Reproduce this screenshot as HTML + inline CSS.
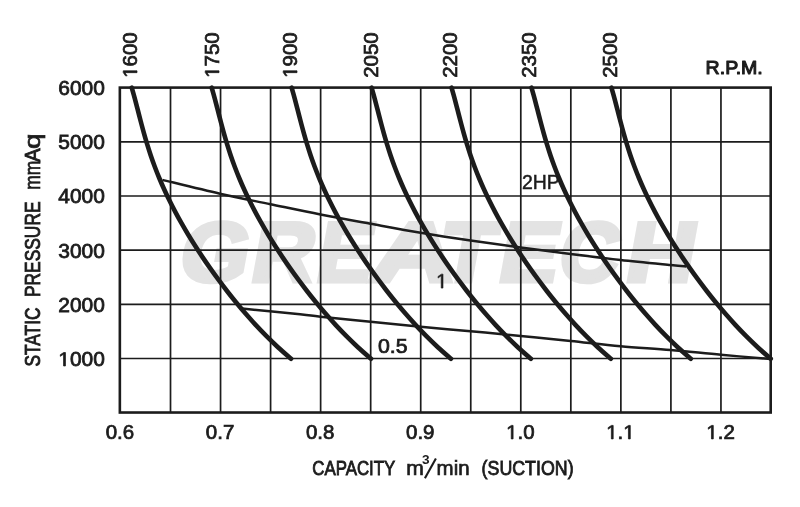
<!DOCTYPE html>
<html><head><meta charset="utf-8"><title>Performance Curve</title>
<style>html,body{margin:0;padding:0;background:#fff;}body{width:800px;height:507px;overflow:hidden;}svg{display:block;filter:grayscale(1);}text{font-family:"Liberation Sans",sans-serif;fill:#1c1c1c;}</style>
</head><body>
<svg width="800" height="507" viewBox="0 0 800 507">
<rect width="800" height="507" fill="#ffffff"/>
<g transform="translate(0 281.0) skewX(-10.4)" style="fill:#e3e3e3;stroke:#e3e3e3;stroke-width:5.0px;stroke-linejoin:miter" font-size="83.5" font-weight="bold">
<text transform="translate(177.04 0) scale(1.0433 1)" x="0" y="0" style="fill:#e3e3e3">G</text>
<text transform="translate(248.86 0) scale(1.0172 1)" x="0" y="0" style="fill:#e3e3e3">R</text>
<text transform="translate(313.99 0) scale(0.9740 1)" x="0" y="0" style="fill:#e3e3e3">E</text>
<text transform="translate(368.09 0) scale(1.3930 1)" x="0" y="0" style="fill:#e3e3e3">A</text>
<text transform="translate(436.64 0) scale(1.0522 1)" x="0" y="0" style="fill:#e3e3e3">T</text>
<text transform="translate(496.29 0) scale(1.0415 1)" x="0" y="0" style="fill:#e3e3e3">E</text>
<text transform="translate(556.10 0) scale(0.9733 1)" x="0" y="0" style="fill:#e3e3e3">C</text>
<text transform="translate(623.13 0) scale(1.1241 1)" x="0" y="0" style="fill:#e3e3e3">H</text>
</g>
<path d="M170.51 87.60 V412.62 M220.55 87.60 V412.62 M270.59 87.60 V412.62 M320.63 87.60 V412.62 M370.67 87.60 V412.62 M420.71 87.60 V412.62 M470.75 87.60 V412.62 M520.79 87.60 V412.62 M570.83 87.60 V412.62 M620.87 87.60 V412.62 M670.91 87.60 V412.62 M720.95 87.60 V412.62 M119.85 141.82 H770.70 M119.85 195.99 H770.70 M119.85 250.16 H770.70 M119.85 304.33 H770.70 M119.85 358.50 H770.70" stroke="#1c1c1c" stroke-width="1.7" fill="none"/>
<rect x="119.85" y="87.60" width="650.85" height="324.92" fill="none" stroke="#1c1c1c" stroke-width="2.6"/>
<path d="M131.74 87.60 C132.26 89.48 133.87 95.13 134.89 98.90 C135.91 102.67 136.86 106.43 137.84 110.20 C138.82 113.97 139.77 117.73 140.77 121.50 C141.77 125.27 142.77 129.03 143.83 132.80 C144.89 136.57 145.97 140.33 147.13 144.10 C148.29 147.87 149.49 151.63 150.76 155.40 C152.04 159.17 153.38 162.93 154.79 166.70 C156.20 170.47 157.68 174.23 159.24 178.00 C160.80 181.77 162.43 185.53 164.14 189.30 C165.84 193.07 167.63 196.83 169.48 200.60 C171.34 204.37 173.27 208.13 175.27 211.90 C177.27 215.67 179.34 219.43 181.48 223.20 C183.62 226.97 185.83 230.73 188.11 234.50 C190.38 238.27 192.72 242.03 195.12 245.80 C197.53 249.57 199.99 253.33 202.52 257.10 C205.05 260.87 207.64 264.63 210.29 268.40 C212.94 272.17 215.66 275.93 218.44 279.70 C221.23 283.47 224.07 287.23 227.00 291.00 C229.93 294.77 232.92 298.53 236.00 302.30 C239.09 306.07 242.24 309.83 245.52 313.60 C248.79 317.37 252.14 321.13 255.64 324.90 C259.13 328.67 262.72 332.43 266.49 336.20 C270.25 339.97 274.13 343.73 278.23 347.50 C282.32 351.27 288.92 356.92 291.05 358.80" stroke="#1c1c1c" stroke-width="4.6" fill="none" stroke-linecap="round"/>
<path d="M211.69 87.60 C212.21 89.48 213.82 95.13 214.84 98.90 C215.86 102.67 216.81 106.43 217.79 110.20 C218.77 113.97 219.72 117.73 220.72 121.50 C221.72 125.27 222.72 129.03 223.78 132.80 C224.84 136.57 225.92 140.33 227.08 144.10 C228.24 147.87 229.44 151.63 230.71 155.40 C231.99 159.17 233.33 162.93 234.74 166.70 C236.15 170.47 237.63 174.23 239.19 178.00 C240.75 181.77 242.38 185.53 244.09 189.30 C245.79 193.07 247.58 196.83 249.43 200.60 C251.29 204.37 253.22 208.13 255.22 211.90 C257.22 215.67 259.29 219.43 261.43 223.20 C263.57 226.97 265.78 230.73 268.06 234.50 C270.33 238.27 272.67 242.03 275.07 245.80 C277.48 249.57 279.94 253.33 282.47 257.10 C285.00 260.87 287.59 264.63 290.24 268.40 C292.89 272.17 295.61 275.93 298.39 279.70 C301.18 283.47 304.02 287.23 306.95 291.00 C309.88 294.77 312.87 298.53 315.95 302.30 C319.04 306.07 322.19 309.83 325.47 313.60 C328.74 317.37 332.09 321.13 335.59 324.90 C339.08 328.67 342.67 332.43 346.44 336.20 C350.20 339.97 354.08 343.73 358.18 347.50 C362.27 351.27 368.87 356.92 371.00 358.80" stroke="#1c1c1c" stroke-width="4.6" fill="none" stroke-linecap="round"/>
<path d="M291.64 87.60 C292.16 89.48 293.77 95.13 294.79 98.90 C295.81 102.67 296.76 106.43 297.74 110.20 C298.72 113.97 299.67 117.73 300.67 121.50 C301.67 125.27 302.67 129.03 303.73 132.80 C304.79 136.57 305.87 140.33 307.03 144.10 C308.19 147.87 309.39 151.63 310.66 155.40 C311.94 159.17 313.28 162.93 314.69 166.70 C316.10 170.47 317.58 174.23 319.14 178.00 C320.70 181.77 322.33 185.53 324.04 189.30 C325.74 193.07 327.53 196.83 329.38 200.60 C331.24 204.37 333.17 208.13 335.17 211.90 C337.17 215.67 339.24 219.43 341.38 223.20 C343.52 226.97 345.73 230.73 348.01 234.50 C350.28 238.27 352.62 242.03 355.02 245.80 C357.43 249.57 359.89 253.33 362.42 257.10 C364.95 260.87 367.54 264.63 370.19 268.40 C372.84 272.17 375.56 275.93 378.34 279.70 C381.13 283.47 383.97 287.23 386.90 291.00 C389.83 294.77 392.82 298.53 395.90 302.30 C398.99 306.07 402.14 309.83 405.42 313.60 C408.69 317.37 412.04 321.13 415.54 324.90 C419.03 328.67 422.62 332.43 426.39 336.20 C430.15 339.97 434.03 343.73 438.13 347.50 C442.22 351.27 448.82 356.92 450.95 358.80" stroke="#1c1c1c" stroke-width="4.6" fill="none" stroke-linecap="round"/>
<path d="M371.59 87.60 C372.11 89.48 373.72 95.13 374.74 98.90 C375.76 102.67 376.71 106.43 377.69 110.20 C378.67 113.97 379.62 117.73 380.62 121.50 C381.62 125.27 382.62 129.03 383.68 132.80 C384.74 136.57 385.82 140.33 386.98 144.10 C388.14 147.87 389.34 151.63 390.61 155.40 C391.89 159.17 393.23 162.93 394.64 166.70 C396.05 170.47 397.53 174.23 399.09 178.00 C400.65 181.77 402.28 185.53 403.99 189.30 C405.69 193.07 407.48 196.83 409.33 200.60 C411.19 204.37 413.12 208.13 415.12 211.90 C417.12 215.67 419.19 219.43 421.33 223.20 C423.47 226.97 425.68 230.73 427.96 234.50 C430.23 238.27 432.57 242.03 434.97 245.80 C437.38 249.57 439.84 253.33 442.37 257.10 C444.90 260.87 447.49 264.63 450.14 268.40 C452.79 272.17 455.51 275.93 458.29 279.70 C461.08 283.47 463.92 287.23 466.85 291.00 C469.78 294.77 472.77 298.53 475.85 302.30 C478.94 306.07 482.09 309.83 485.37 313.60 C488.64 317.37 491.99 321.13 495.49 324.90 C498.98 328.67 502.57 332.43 506.34 336.20 C510.10 339.97 513.98 343.73 518.08 347.50 C522.17 351.27 528.77 356.92 530.90 358.80" stroke="#1c1c1c" stroke-width="4.6" fill="none" stroke-linecap="round"/>
<path d="M451.54 87.60 C452.06 89.48 453.67 95.13 454.69 98.90 C455.71 102.67 456.66 106.43 457.64 110.20 C458.62 113.97 459.57 117.73 460.57 121.50 C461.57 125.27 462.57 129.03 463.63 132.80 C464.69 136.57 465.77 140.33 466.93 144.10 C468.09 147.87 469.29 151.63 470.56 155.40 C471.84 159.17 473.18 162.93 474.59 166.70 C476.00 170.47 477.48 174.23 479.04 178.00 C480.60 181.77 482.23 185.53 483.94 189.30 C485.64 193.07 487.43 196.83 489.28 200.60 C491.14 204.37 493.07 208.13 495.07 211.90 C497.07 215.67 499.14 219.43 501.28 223.20 C503.42 226.97 505.63 230.73 507.91 234.50 C510.18 238.27 512.52 242.03 514.92 245.80 C517.33 249.57 519.79 253.33 522.32 257.10 C524.85 260.87 527.44 264.63 530.09 268.40 C532.74 272.17 535.46 275.93 538.24 279.70 C541.03 283.47 543.87 287.23 546.80 291.00 C549.73 294.77 552.72 298.53 555.80 302.30 C558.89 306.07 562.04 309.83 565.32 313.60 C568.59 317.37 571.94 321.13 575.44 324.90 C578.93 328.67 582.52 332.43 586.29 336.20 C590.05 339.97 593.93 343.73 598.03 347.50 C602.12 351.27 608.72 356.92 610.85 358.80" stroke="#1c1c1c" stroke-width="4.6" fill="none" stroke-linecap="round"/>
<path d="M531.49 87.60 C532.01 89.48 533.62 95.13 534.64 98.90 C535.66 102.67 536.61 106.43 537.59 110.20 C538.57 113.97 539.52 117.73 540.52 121.50 C541.52 125.27 542.52 129.03 543.58 132.80 C544.64 136.57 545.72 140.33 546.88 144.10 C548.04 147.87 549.24 151.63 550.51 155.40 C551.79 159.17 553.13 162.93 554.54 166.70 C555.95 170.47 557.43 174.23 558.99 178.00 C560.55 181.77 562.18 185.53 563.89 189.30 C565.59 193.07 567.38 196.83 569.23 200.60 C571.09 204.37 573.02 208.13 575.02 211.90 C577.02 215.67 579.09 219.43 581.23 223.20 C583.37 226.97 585.58 230.73 587.86 234.50 C590.13 238.27 592.47 242.03 594.87 245.80 C597.28 249.57 599.74 253.33 602.27 257.10 C604.80 260.87 607.39 264.63 610.04 268.40 C612.69 272.17 615.41 275.93 618.19 279.70 C620.98 283.47 623.82 287.23 626.75 291.00 C629.68 294.77 632.67 298.53 635.75 302.30 C638.84 306.07 641.99 309.83 645.27 313.60 C648.54 317.37 651.89 321.13 655.39 324.90 C658.88 328.67 662.47 332.43 666.24 336.20 C670.00 339.97 673.88 343.73 677.98 347.50 C682.07 351.27 688.67 356.92 690.80 358.80" stroke="#1c1c1c" stroke-width="4.6" fill="none" stroke-linecap="round"/>
<path d="M611.44 87.60 C611.96 89.48 613.57 95.13 614.59 98.90 C615.61 102.67 616.56 106.43 617.54 110.20 C618.52 113.97 619.47 117.73 620.47 121.50 C621.47 125.27 622.47 129.03 623.53 132.80 C624.59 136.57 625.67 140.33 626.83 144.10 C627.99 147.87 629.19 151.63 630.46 155.40 C631.74 159.17 633.08 162.93 634.49 166.70 C635.90 170.47 637.38 174.23 638.94 178.00 C640.50 181.77 642.13 185.53 643.84 189.30 C645.54 193.07 647.33 196.83 649.18 200.60 C651.04 204.37 652.97 208.13 654.97 211.90 C656.97 215.67 659.04 219.43 661.18 223.20 C663.32 226.97 665.53 230.73 667.81 234.50 C670.08 238.27 672.42 242.03 674.82 245.80 C677.23 249.57 679.69 253.33 682.22 257.10 C684.75 260.87 687.34 264.63 689.99 268.40 C692.64 272.17 695.36 275.93 698.14 279.70 C700.93 283.47 703.77 287.23 706.70 291.00 C709.63 294.77 712.62 298.53 715.70 302.30 C718.79 306.07 721.94 309.83 725.22 313.60 C728.49 317.37 731.84 321.13 735.34 324.90 C738.83 328.67 742.42 332.43 746.19 336.20 C749.95 339.97 753.83 343.73 757.93 347.50 C762.02 351.27 768.62 356.92 770.75 358.80" stroke="#1c1c1c" stroke-width="4.6" fill="none" stroke-linecap="round"/>
<path d="M162.50 179.90 C172.08 182.21 202.00 189.69 220.00 193.75 C238.00 197.81 253.75 200.79 270.50 204.25 C287.25 207.71 303.83 211.25 320.50 214.50 C337.17 217.75 353.82 220.72 370.50 223.75 C387.18 226.78 403.92 229.91 420.60 232.70 C437.28 235.49 453.93 238.03 470.60 240.50 C487.27 242.97 503.93 245.25 520.60 247.50 C537.27 249.75 553.93 251.92 570.60 254.00 C587.27 256.08 603.93 258.17 620.60 260.00 C637.27 261.83 659.66 263.93 670.60 265.00 C681.54 266.07 683.64 266.17 686.25 266.40" stroke="#1c1c1c" stroke-width="2.5" fill="none"/>
<path d="M242.10 308.60 C251.75 309.54 286.92 312.89 300.00 314.25 C313.08 315.61 308.83 315.50 320.60 316.75 C332.37 318.00 353.93 320.08 370.60 321.75 C387.27 323.42 403.93 325.17 420.60 326.75 C437.27 328.33 453.93 329.71 470.60 331.25 C487.27 332.79 503.93 334.38 520.60 336.00 C537.27 337.62 553.93 339.29 570.60 341.00 C587.27 342.71 603.93 344.75 620.60 346.25 C637.27 347.75 653.87 348.57 670.60 350.00 C687.33 351.43 704.30 353.30 721.00 354.80 C737.70 356.30 762.50 358.30 770.80 359.00" stroke="#1c1c1c" stroke-width="2.5" fill="none"/>
<g transform="translate(58.31 95.10) scale(1.0740 1)"><text x="0" y="0" font-size="19.5" style="stroke:#1c1c1c;stroke-width:0.75px;font-kerning:none">6000</text></g>
<g transform="translate(58.31 149.27) scale(1.0740 1)"><text x="0" y="0" font-size="19.5" style="stroke:#1c1c1c;stroke-width:0.75px;font-kerning:none">5000</text></g>
<g transform="translate(58.31 203.44) scale(1.0740 1)"><text x="0" y="0" font-size="19.5" style="stroke:#1c1c1c;stroke-width:0.75px;font-kerning:none">4000</text></g>
<g transform="translate(58.31 257.61) scale(1.0740 1)"><text x="0" y="0" font-size="19.5" style="stroke:#1c1c1c;stroke-width:0.75px;font-kerning:none">3000</text></g>
<g transform="translate(58.31 311.78) scale(1.0740 1)"><text x="0" y="0" font-size="19.5" style="stroke:#1c1c1c;stroke-width:0.75px;font-kerning:none">2000</text></g>
<g transform="translate(58.31 365.95) scale(1.0740 1)"><text x="0" y="0" font-size="19.5" style="stroke:#1c1c1c;stroke-width:0.75px;font-kerning:none"><tspan style="fill:none;stroke:none">1</tspan>000</text><path d="M4.90 0.00 L4.90 -11.78 L1.88 -9.62 L1.88 -11.24 L5.05 -13.42 L6.63 -13.42 L6.63 0.00Z" fill="#1c1c1c" stroke="#1c1c1c" stroke-width="0.75" stroke-linejoin="round"/></g>
<g transform="translate(105.71 438.90) scale(1.0450 1)"><text x="0" y="0" font-size="19.6" style="stroke:#1c1c1c;stroke-width:0.75px;font-kerning:none">0.6</text></g>
<g transform="translate(205.81 438.90) scale(1.0450 1)"><text x="0" y="0" font-size="19.6" style="stroke:#1c1c1c;stroke-width:0.75px;font-kerning:none">0.7</text></g>
<g transform="translate(305.91 438.90) scale(1.0450 1)"><text x="0" y="0" font-size="19.6" style="stroke:#1c1c1c;stroke-width:0.75px;font-kerning:none">0.8</text></g>
<g transform="translate(406.01 438.90) scale(1.0450 1)"><text x="0" y="0" font-size="19.6" style="stroke:#1c1c1c;stroke-width:0.75px;font-kerning:none">0.9</text></g>
<g transform="translate(506.11 438.90) scale(1.0450 1)"><text x="0" y="0" font-size="19.6" style="stroke:#1c1c1c;stroke-width:0.75px;font-kerning:none"><tspan style="fill:none;stroke:none">1</tspan>.0</text><path d="M4.93 0.00 L4.93 -11.84 L1.89 -9.67 L1.89 -11.29 L5.07 -13.48 L6.66 -13.48 L6.66 0.00Z" fill="#1c1c1c" stroke="#1c1c1c" stroke-width="0.75" stroke-linejoin="round"/></g>
<g transform="translate(606.21 438.90) scale(1.0450 1)"><text x="0" y="0" font-size="19.6" style="stroke:#1c1c1c;stroke-width:0.75px;font-kerning:none"><tspan style="fill:none;stroke:none">1</tspan>.<tspan style="fill:none;stroke:none">1</tspan></text><path d="M4.93 0.00 L4.93 -11.84 L1.89 -9.67 L1.89 -11.29 L5.07 -13.48 L6.66 -13.48 L6.66 0.00Z" fill="#1c1c1c" stroke="#1c1c1c" stroke-width="0.75" stroke-linejoin="round"/><path d="M21.27 0.00 L21.27 -11.84 L18.23 -9.67 L18.23 -11.29 L21.42 -13.48 L23.01 -13.48 L23.01 0.00Z" fill="#1c1c1c" stroke="#1c1c1c" stroke-width="0.75" stroke-linejoin="round"/></g>
<g transform="translate(706.31 438.90) scale(1.0450 1)"><text x="0" y="0" font-size="19.6" style="stroke:#1c1c1c;stroke-width:0.75px;font-kerning:none"><tspan style="fill:none;stroke:none">1</tspan>.2</text><path d="M4.93 0.00 L4.93 -11.84 L1.89 -9.67 L1.89 -11.29 L5.07 -13.48 L6.66 -13.48 L6.66 0.00Z" fill="#1c1c1c" stroke="#1c1c1c" stroke-width="0.75" stroke-linejoin="round"/></g>
<g transform="translate(137.00 77.80) rotate(-90) scale(1.0230 1)"><text x="0" y="0" font-size="20.0" style="stroke:#1c1c1c;stroke-width:0.75px;font-kerning:none"><tspan style="fill:none;stroke:none">1</tspan>600</text><path d="M5.03 0.00 L5.03 -12.08 L1.92 -9.86 L1.92 -11.52 L5.18 -13.76 L6.80 -13.76 L6.80 0.00Z" fill="#1c1c1c" stroke="#1c1c1c" stroke-width="0.75" stroke-linejoin="round"/></g>
<g transform="translate(219.00 77.80) rotate(-90) scale(1.0230 1)"><text x="0" y="0" font-size="20.0" style="stroke:#1c1c1c;stroke-width:0.75px;font-kerning:none"><tspan style="fill:none;stroke:none">1</tspan>750</text><path d="M5.03 0.00 L5.03 -12.08 L1.92 -9.86 L1.92 -11.52 L5.18 -13.76 L6.80 -13.76 L6.80 0.00Z" fill="#1c1c1c" stroke="#1c1c1c" stroke-width="0.75" stroke-linejoin="round"/></g>
<g transform="translate(297.00 77.80) rotate(-90) scale(1.0230 1)"><text x="0" y="0" font-size="20.0" style="stroke:#1c1c1c;stroke-width:0.75px;font-kerning:none"><tspan style="fill:none;stroke:none">1</tspan>900</text><path d="M5.03 0.00 L5.03 -12.08 L1.92 -9.86 L1.92 -11.52 L5.18 -13.76 L6.80 -13.76 L6.80 0.00Z" fill="#1c1c1c" stroke="#1c1c1c" stroke-width="0.75" stroke-linejoin="round"/></g>
<g transform="translate(378.00 77.80) rotate(-90) scale(1.0230 1)"><text x="0" y="0" font-size="20.0" style="stroke:#1c1c1c;stroke-width:0.75px;font-kerning:none">2050</text></g>
<g transform="translate(457.00 77.80) rotate(-90) scale(1.0230 1)"><text x="0" y="0" font-size="20.0" style="stroke:#1c1c1c;stroke-width:0.75px;font-kerning:none">2200</text></g>
<g transform="translate(536.00 77.80) rotate(-90) scale(1.0230 1)"><text x="0" y="0" font-size="20.0" style="stroke:#1c1c1c;stroke-width:0.75px;font-kerning:none">2350</text></g>
<g transform="translate(617.00 77.80) rotate(-90) scale(1.0230 1)"><text x="0" y="0" font-size="20.0" style="stroke:#1c1c1c;stroke-width:0.75px;font-kerning:none">2500</text></g>
<text x="705.6" y="74" font-size="18.8" style="stroke:#1c1c1c;stroke-width:1.1px;stroke-linejoin:round" textLength="57.2" lengthAdjust="spacingAndGlyphs">R.P.M.</text>
<text x="521.9" y="189" font-size="19.6" textLength="37.8" lengthAdjust="spacingAndGlyphs" style="stroke:#1c1c1c;stroke-width:0.5px">2HP</text>
<g transform="translate(436.10 288.10) scale(1.0000 1)"><text x="0" y="0" font-size="20.3" style="stroke:#1c1c1c;stroke-width:0.60px;font-kerning:none"><tspan style="fill:none;stroke:none">1</tspan></text><path d="M5.10 0.00 L5.10 -12.26 L1.95 -10.01 L1.95 -11.70 L5.25 -13.97 L6.90 -13.97 L6.90 0.00Z" fill="#1c1c1c" stroke="#1c1c1c" stroke-width="0.60" stroke-linejoin="round"/></g>
<g transform="translate(378.00 352.70) scale(1.0650 1)"><text x="0" y="0" font-size="20.0" style="stroke:#1c1c1c;stroke-width:0.75px;font-kerning:none">0.5</text></g>
<text x="312.3" y="475" font-size="20.4" style="stroke:#1c1c1c;stroke-width:0.85px" textLength="83" lengthAdjust="spacingAndGlyphs">CAPACITY</text>
<text x="406.3" y="474.8" font-size="21" style="stroke:#1c1c1c;stroke-width:0.7px" textLength="17.6" lengthAdjust="spacingAndGlyphs">m</text>
<text x="422" y="464.2" font-size="13.5" font-weight="bold" textLength="7.6" lengthAdjust="spacingAndGlyphs">3</text>
<path d="M424.9 478.3 L435.9 458.6" stroke="#1c1c1c" stroke-width="2.1"/>
<text x="436.6" y="474.8" font-size="21" style="stroke:#1c1c1c;stroke-width:0.7px" textLength="33" lengthAdjust="spacingAndGlyphs">min</text>
<text x="481.6" y="475" font-size="20.4" style="stroke:#1c1c1c;stroke-width:0.85px" textLength="92" lengthAdjust="spacingAndGlyphs">(SUCTION)</text>
<g transform="translate(39.7 366) rotate(-90) scale(1 1.04)">
<text x="-0.5" y="0" font-size="20.4" style="stroke:#1c1c1c;stroke-width:0.85px" textLength="59" lengthAdjust="spacingAndGlyphs">STATIC</text>
<text x="69" y="0" font-size="20.4" style="stroke:#1c1c1c;stroke-width:0.85px" textLength="95.5" lengthAdjust="spacingAndGlyphs">PRESSURE</text>
<text x="176.2" y="0" font-size="21" style="stroke:#1c1c1c;stroke-width:0.7px" textLength="29" lengthAdjust="spacingAndGlyphs">mm</text>
<text x="204" y="0" font-size="20.4" style="stroke:#1c1c1c;stroke-width:0.85px" textLength="13.6" lengthAdjust="spacingAndGlyphs">A</text>
<text x="217" y="0" font-size="21" style="stroke:#1c1c1c;stroke-width:0.7px" textLength="15.5" lengthAdjust="spacingAndGlyphs">q</text>
</g>
</svg></body></html>
